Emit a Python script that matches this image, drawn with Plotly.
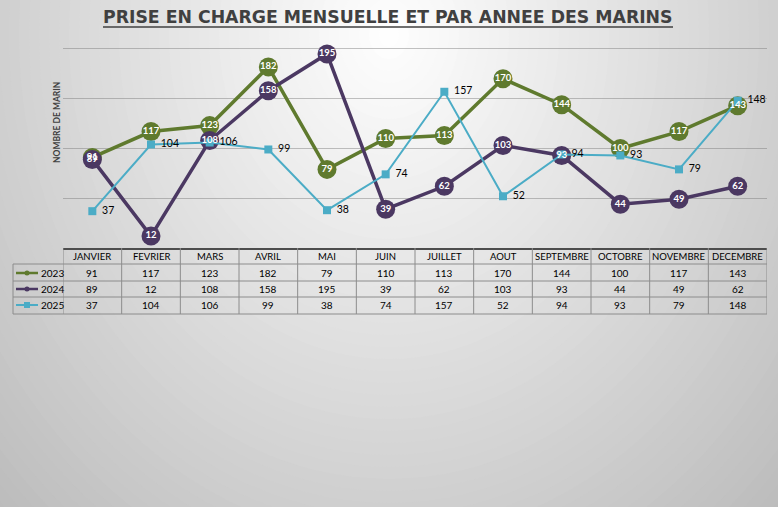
import plotly.graph_objects as go

months = ["JANVIER", "FEVRIER", "MARS", "AVRIL", "MAI", "JUIN", "JUILLET",
          "AOUT", "SEPTEMBRE", "OCTOBRE", "NOVEMBRE", "DECEMBRE"]
v2023 = [91, 117, 123, 182, 79, 110, 113, 170, 144, 100, 117, 143]
v2024 = [89, 12, 108, 158, 195, 39, 62, 103, 93, 44, 49, 62]
v2025 = [37, 104, 106, 99, 38, 74, 157, 52, 94, 93, 79, 148]
series_names = ["2023", "2024", "2025"]

GREEN = "#5f7a2e"
PURPLE = "#4b3862"
BLUE = "#4bacc6"
colors = [GREEN, PURPLE, BLUE]
series = [v2023, v2024, v2025]

W, H = 778, 507
L, R, T, B = 63, 11, 44, 259
PW = W - L - R
PH = H - T - B
FONT = "Lato, 'Open Sans', sans-serif"


def px2p(px):
    return (px - L) / PW


def py2p(py):
    return (H - B - py) / PH


fig = go.Figure()

# series lines + markers
for name, vals, col in zip(series_names, series, colors):
    if name == "2025":
        mk = dict(symbol="square", size=8, color=col)
        lw = 2
    else:
        mk = dict(symbol="circle", size=19, color=col)
        lw = 3.5
    fig.add_trace(go.Scatter(x=months, y=vals, mode="lines+markers", name=name,
                             line=dict(color=col, width=lw), marker=mk,
                             cliponaxis=False, hoverinfo="skip", showlegend=False))

# data labels on top
for name, vals, col in zip(series_names, series, colors):
    if name == "2025":
        fig.add_trace(go.Scatter(x=months, y=vals, mode="markers+text", text=[str(v) for v in vals],
                                 textposition="middle right",
                                 marker=dict(size=14, opacity=0),
                                 textfont=dict(family=FONT, size=10.5, color="#000000"),
                                 cliponaxis=False, showlegend=False, hoverinfo="skip"))
    else:
        fig.add_trace(go.Scatter(x=months, y=vals, mode="text", text=["<b>%d</b>" % v for v in vals],
                                 textposition="middle center",
                                 textfont=dict(family=FONT, size=9.5, color="#ffffff"),
                                 cliponaxis=False, showlegend=False, hoverinfo="skip"))

shapes = []
# radial gradient background (decoration)
cx, cy = 389, 35
steps = list(range(720, 0, -12))
for r in steps:
    lvl = int(round(max(0, min(255, 255 - 0.1 * r))))
    c = "rgb(%d,%d,%d)" % (lvl, lvl, lvl)
    rx = r / 1.2
    ry = r
    shapes.append(dict(type="circle", xref="paper", yref="paper", layer="below",
                       x0=px2p(cx - rx), x1=px2p(cx + rx), y0=py2p(cy + ry), y1=py2p(cy - ry),
                       fillcolor=c, line=dict(width=0)))

# title underline
shapes.append(dict(type="line", xref="paper", yref="paper", x0=px2p(103), x1=px2p(673),
                   y0=py2p(27), y1=py2p(27), line=dict(color="#404040", width=1.5)))

# table grid
GRID = "#8c8c8c"
row_lines = [264, 281, 297, 314]
for yl in row_lines:
    shapes.append(dict(type="line", xref="paper", yref="paper", x0=px2p(13), x1=1,
                       y0=py2p(yl), y1=py2p(yl), line=dict(color=GRID, width=1)))
for i in range(len(months) + 1):
    shapes.append(dict(type="line", xref="x", yref="paper", x0=i - 0.5, x1=i - 0.5,
                       y0=py2p(248), y1=py2p(314), line=dict(color=GRID, width=1)))
shapes.append(dict(type="line", xref="paper", yref="paper", x0=px2p(13), x1=px2p(13),
                   y0=py2p(264), y1=py2p(314), line=dict(color=GRID, width=1)))

annotations = []
annotations.append(dict(text="<b>PRISE EN CHARGE MENSUELLE ET PAR ANNEE DES MARINS</b>",
                        xref="paper", yref="paper", x=px2p(388), y=py2p(17),
                        xanchor="center", yanchor="middle", showarrow=False,
                        font=dict(family="'DejaVu Sans', sans-serif", size=17.3, color="#404040")))
annotations.append(dict(text="<b>NOMBRE DE MARIN</b>", xref="paper", yref="paper",
                        x=px2p(57), y=py2p(123), textangle=-90, showarrow=False,
                        xanchor="center", yanchor="middle",
                        font=dict(family=FONT, size=8.5, color="#404040")))

# header
for m in months:
    annotations.append(dict(text=m, xref="x", yref="paper", x=m, y=py2p(256),
                            showarrow=False, xanchor="center", yanchor="middle",
                            font=dict(family=FONT, size=9.5, color="#000000")))
row_centers = [273, 289, 305]
for name, vals, col, yc in zip(series_names, series, colors, row_centers):
    for m, v in zip(months, vals):
        annotations.append(dict(text=str(v), xref="x", yref="paper", x=m, y=py2p(yc),
                                showarrow=False, xanchor="center", yanchor="middle",
                                font=dict(family=FONT, size=10, color="#000000")))
    annotations.append(dict(text=name, xref="paper", yref="paper", x=px2p(39), y=py2p(yc),
                            showarrow=False, xanchor="left", yanchor="middle",
                            font=dict(family=FONT, size=10, color="#000000")))
    # legend key
    shapes.append(dict(type="line", xref="paper", yref="paper", x0=px2p(16), x1=px2p(38),
                       y0=py2p(yc), y1=py2p(yc), line=dict(color=col, width=2.5 if name != "2025" else 2)))
    if name == "2025":
        shapes.append(dict(type="rect", xref="paper", yref="paper", x0=px2p(24), x1=px2p(30),
                           y0=py2p(yc + 3), y1=py2p(yc - 3), fillcolor=col, line=dict(width=0)))
    else:
        shapes.append(dict(type="circle", xref="paper", yref="paper", x0=px2p(24.5), x1=px2p(29.5),
                           y0=py2p(yc + 2.5), y1=py2p(yc - 2.5), fillcolor=col, line=dict(width=0)))

fig.update_layout(
    width=W, height=H,
    margin=dict(l=L, r=R, t=T, b=B, pad=0),
    paper_bgcolor="rgb(183,183,183)",
    plot_bgcolor="rgba(0,0,0,0)",
    shapes=shapes,
    annotations=annotations,
    showlegend=False,
    xaxis=dict(type="category", range=[-0.5, 11.5], showticklabels=False, ticks="",
               showgrid=False, zeroline=False, showline=True, linecolor="#4d4d4d", linewidth=1.5,
               fixedrange=True),
    yaxis=dict(range=[0, 205], tickmode="array", tickvals=[50, 100, 150, 200],
               showticklabels=False, ticks="",
               showgrid=True, gridcolor="rgba(120,120,120,0.45)", gridwidth=1,
               zeroline=False, showline=False, fixedrange=True),
)

fig.write_html("out.html", config={"displayModeBar": False},
               post_script="document.body.style.margin='0';document.body.style.overflow='hidden';")
